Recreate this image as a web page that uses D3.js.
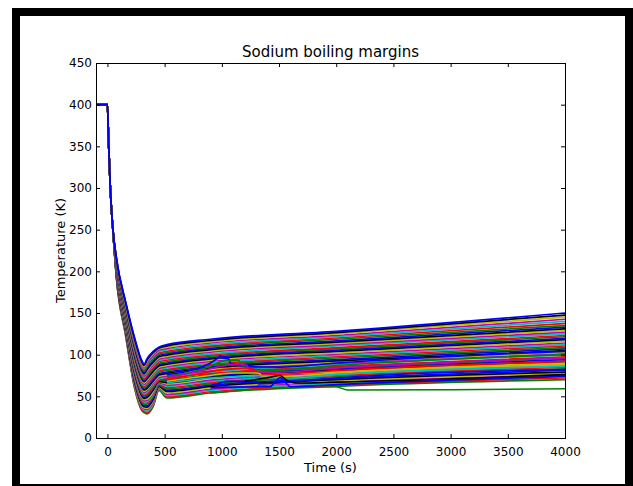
<!DOCTYPE html>
<html><head><meta charset="utf-8">
<script src="https://cdn.jsdelivr.net/npm/d3@7"></script>
<style>body{margin:0;background:#fff}svg{display:block}</style>
</head><body>
<svg id="c" width="633" height="486"></svg>
<script>
// ---- data ----
const xTicks = [0,500,1000,1500,2000,2500,3000,3500,4000];
const yTicks = [0,50,100,150,200,250,300,350,400,450];
const colors = ['#0000ff','#008000','#ff0000','#00bfbf','#bf00bf','#bfbf00','#000000'];

// shared initial transient (all channels identical)
const startTimes  = [-100, 0, 10, 25, 45];
const startValues = [400, 400, 355, 300, 255];

// per-channel values (bottom channel first) at the key times
const keyTimes = [80,160,240,300,320,345,400,450,520,900,2000,4000];
const c80  = [190,191,191,192,192,193,194,194,195,196,196,197,197,198,198,199,200,200,201,202,202,203,203,204,205,205,206,206,207,208,208,209,210,210,211,211,212,213,213,214,214,215];
const c160 = [122,123.5,124,125,126.5,127,128,129.5,130,131,132.5,133,134,135.5,136,137,138,139.5,140,141,142.5,143,144,145,146.5,147,148,149.5,150,151,152,153.5,154,155,156.5,157,158,159,160.5,161,162,163];
const c240 = [58,59.5,61,62.5,64,65.5,67,68.5,70,71.5,73,74.5,76,77.5,79,80.5,82,83.5,85,86.5,88,89,90.5,92,93.5,95,96.5,98,99.5,101,102.5,104,105.5,107,108.5,110,111.5,113,114.5,116,117.5,119];
const c300 = [33,34.5,36,37.5,39,40.5,42,43,44.5,46,47.5,49,50.5,52,53.5,55,56.5,58,59.5,61,62,63.5,65,66.5,68,69.5,71,72.5,74,75.5,77,78.5,80,81,82.5,84,85.5,87,88.5,90,91.5,93];
const c320 = [30.5,32,33.5,35,36,37.5,39,40.5,42,43,44.5,46,47.5,49,50.5,51.5,53,54.5,56,57.5,59,60,61.5,63,64.5,66,67.5,68.5,70,71.5,73,74.5,76,77,78.5,80,81.5,83,84.5,85.5,87,88.5];
const c345 = [29,30.5,32,34,35.5,37,38.5,40.5,42,43.5,45,46.5,48.5,50,51.5,53,55,56.5,58,59.5,61,63,64.5,66,67.5,69,71,72.5,74,75.5,77.5,79,80.5,82,83.5,85.5,87,88.5,90,92,93.5,95];
const c400 = [38,39.5,41,43,44.5,46,47.5,49.5,51,52.5,54,55.5,57.5,59,60.5,62,64,65.5,67,68.5,70,72,73.5,75,76.5,78,80,81.5,83,84.5,86.5,88,89.5,91,92.5,94.5,96,97.5,99,101,102.5,104];
const c450 = [57,58,59,60,61,62,63,63.5,64.5,65.5,66.5,67.5,68,68.5,69.5,69.5,71,72.5,74,75.5,77,79,80.5,82,83.5,85,86.5,88,89.5,91.5,93,94.5,96,97.5,99,100.5,102,104,105.5,107,108,109];
const c520 = [48,49.5,51,52.5,54,56,57.5,59,60.5,62,63.5,65,66.5,68.5,70,71.5,73,74.5,76,77.5,79,81,82.5,84,85.5,87,88.5,90,91.5,93.5,95,96.5,98,99.5,101,102.5,104,106,107.5,109,110.5,112];
const c900 = [54,55.5,57,58.5,60.5,62,63.5,65,66.5,68,69.5,71.5,73,74.5,76,77.5,79,80.5,82.5,84,85.5,87,88.5,90,92,93.5,95,96.5,98,99.5,101,103,104.5,106,107.5,109,110.5,112,114,115.5,117,118.5];
const c2000 = [62,63.5,65,67,68.5,70,71.5,73.5,75,76.5,78,79.5,81.5,83,84.5,86,88,89.5,91,92.5,94,96,97.5,99,100.5,102,104,105.5,107,108.5,110.5,112,113.5,115,116.5,118.5,120,121.5,123,125,126.5,128];
const c4000 = [70,72,74,75.5,77.5,79,81,83,85,86.5,88.5,90,92,94,96,97.5,99.5,101,103,105,107,108.5,110.5,112,114,116,118,119.5,121.5,123,125,127,129,131,133,135,137.5,140,142.5,145,147.5,150];

// channels that approach boiling (time, temperature)
const boilA = [[520,76],[700,80],[900,90],[975,97],[990,99],[1005,96],[1060,95],[1075,90],[1200,86],[1500,85],[2000,90],[4000,104]];
const boilB = [[520,74],[700,78],[900,86],[1000,92],[1070,93],[1150,93],[1165,88],[1300,82],[1500,82],[2000,87],[4000,100]];
const boilC = [[520,72],[800,80],[1000,86],[1150,89],[1220,87],[1235,83],[1350,79],[1500,79],[2000,84],[4000,96]];
const boilD = [[520,70],[800,77],[1000,82],[1200,84],[1275,83],[1290,78],[1400,76],[2000,81],[4000,92]];
const boilE = [[520,68],[900,75],[1100,78],[1300,78],[1335,77],[1350,74],[1500,74],[2000,78],[4000,88]];
const boilF = [[520,66],[900,72],[1200,74],[1400,75],[1420,72],[1600,72],[2000,76],[4000,86]];
const boilG = [[900,63],[1000,66.5],[1030,68],[1300,68],[1320,65],[1500,66],[2000,72],[4000,82]];
const boilH = [[900,60],[1020,61],[1420,61.5],[1470,68],[1510,72.5],[1560,66],[1600,61.5],[1700,62],[2000,64],[4000,74]];
const boilI = [[1200,68],[1420,73],[1510,75],[1560,70],[1650,66],[2000,67],[4000,76]];
const lowTail = [[900,54],[1400,60],[1500,61.5],[2000,61.5],[2100,57.5],[3000,58],[4000,59]];
const specialSeries = [boilA,boilB,boilC,boilD,boilE,boilF,boilG,boilH,boilI];
const specialColors = ['#0000ff','#008000','#bf00bf','#ff0000','#bfbf00','#00bfbf','#0000ff','#0000ff','#000000'];

// ---- drawing ----
const W = 633, H = 486;
const L = 96, R = 565, T = 63, B = 438;
const svg = d3.select('#c');
const font = 'DejaVu Sans';

svg.append('rect').attr('width', W).attr('height', H).attr('fill', '#fff');

const x = d3.scaleLinear().domain([-100, 4000]).range([L, R]);
const y = d3.scaleLinear().domain([0, 450]).range([B, T]);

svg.append('clipPath').attr('id', 'clip')
  .append('rect').attr('x', L).attr('y', T).attr('width', R - L).attr('height', B - T);

const line = d3.line().x(d => x(d[0])).y(d => y(d[1])).curve(d3.curveMonotoneX);
const gLines = svg.append('g').attr('clip-path', 'url(#clip)');

const cols = [c80,c160,c240,c300,c320,c345,c400,c450,c520,c900,c2000,c4000];
const n = d3.min(cols, c => c.length);

gLines.append('path').datum(lowTail).attr('d', line)
  .attr('fill', 'none').attr('stroke', '#008000').attr('stroke-width', 1.5);

for (let i = 0; i < n; i++) {
  const pts = startTimes.map((t, k) => [t, startValues[k]])
    .concat(keyTimes.map((t, k) => [t, cols[k][i]]));
  gLines.append('path').datum(pts).attr('d', line)
    .attr('fill', 'none').attr('stroke', colors[(i + 1) % colors.length])
    .attr('stroke-width', 1.7).attr('stroke-linejoin', 'round');
}
specialSeries.forEach((s, k) => {
  gLines.append('path').datum(s).attr('d', line)
    .attr('fill', 'none').attr('stroke', specialColors[k])
    .attr('stroke-width', 1.6).attr('stroke-linejoin', 'round');
});

// axes (matplotlib classic: inward ticks on all sides)
function styleAxis(g) {
  g.select('.domain').remove();
  g.selectAll('.tick line').attr('stroke', '#000');
  g.selectAll('text').attr('font-family', font).attr('font-size', 12).attr('fill', '#000');
}
svg.append('g').attr('transform', `translate(0,${B})`)
  .call(d3.axisBottom(x).tickValues(xTicks).tickSizeInner(-4).tickSizeOuter(0).tickPadding(9).tickFormat(d3.format('d')))
  .call(styleAxis);
svg.append('g').attr('transform', `translate(0,${T})`)
  .call(d3.axisTop(x).tickValues(xTicks).tickSizeInner(-4).tickSizeOuter(0).tickFormat(() => ''))
  .call(styleAxis);
svg.append('g').attr('transform', `translate(${L},0)`)
  .call(d3.axisLeft(y).tickValues(yTicks).tickSizeInner(-4).tickSizeOuter(0).tickPadding(4).tickFormat(d3.format('d')))
  .call(styleAxis);
svg.append('g').attr('transform', `translate(${R},0)`)
  .call(d3.axisRight(y).tickValues(yTicks).tickSizeInner(-4).tickSizeOuter(0).tickFormat(() => ''))
  .call(styleAxis);

svg.append('rect').attr('x', L + 0.5).attr('y', T + 0.5).attr('width', R - L).attr('height', B - T)
  .attr('fill', 'none').attr('stroke', '#000').attr('stroke-width', 1);

// texts
svg.append('text').attr('x', (L + R) / 2).attr('y', 57).attr('text-anchor', 'middle')
  .attr('font-family', font).attr('font-size', 15).text('Sodium boiling margins');
svg.append('text').attr('x', (L + R) / 2).attr('y', 472).attr('text-anchor', 'middle')
  .attr('font-family', font).attr('font-size', 13).text('Time (s)');
svg.append('text').attr('transform', `translate(60,${(T + B) / 2}) rotate(-90)`)
  .attr('text-anchor', 'middle').attr('dy', '0.35em')
  .attr('font-family', font).attr('font-size', 13).text('Temperature (K)');

// black picture frame
svg.append('rect').attr('x', 12).attr('y', 8).attr('width', 8).attr('height', H - 8).attr('fill', '#000');
svg.append('rect').attr('x', 12).attr('y', 8).attr('width', W - 12).attr('height', 8).attr('fill', '#000');
svg.append('rect').attr('x', 625).attr('y', 8).attr('width', 8).attr('height', H - 8).attr('fill', '#000');
svg.append('rect').attr('x', 12).attr('y', 484).attr('width', W - 12).attr('height', 2).attr('fill', '#000');
</script>
</body></html>
